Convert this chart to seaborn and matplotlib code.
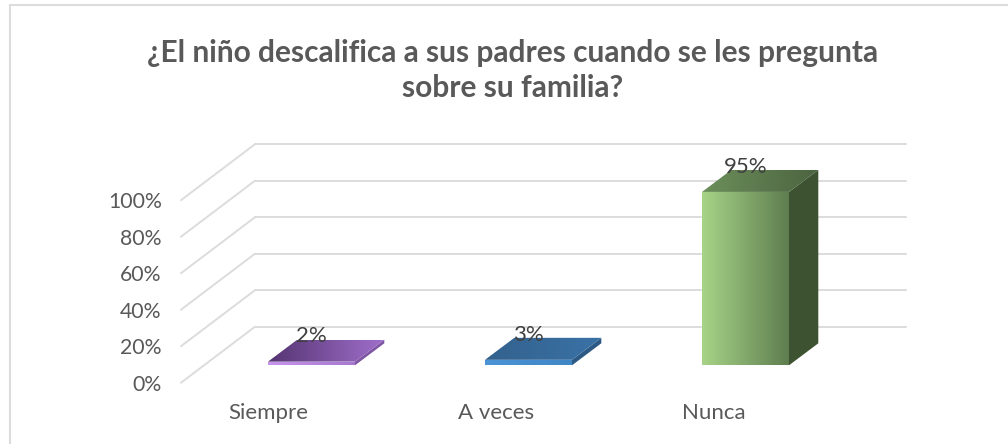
import numpy as np
import matplotlib
matplotlib.use('Agg')
import matplotlib.pyplot as plt
from matplotlib.patches import Rectangle
import pandas as pd
import seaborn as sns

categories = ['Siempre', 'A veces', 'Nunca']
values = [2, 3, 95]
y_ticks = [0, 20, 40, 60, 80, 100]
title = '¿El niño descalifica a sus padres cuando se les pregunta\nsobre su familia?'

W, H = 1008, 444
TEXT = '#595959'
GRID = '#dcdcdc'

sns.set_theme(style='white')
plt.rcParams['font.family'] = ['Lato', 'DejaVu Sans']

# axes box in pixels, ticks sit just outside of it
L, R, T, B = 170, 920, 130, 397
fig = plt.figure(figsize=(W / 100, H / 100), dpi=100)
ax = fig.add_axes([L / W, 1 - B / H, (R - L) / W, (B - T) / H])

# one category = 217 px, 1% = 1.825 px, first bar centre at x=311.5, bar base at y=365.3
PX_X, PX_Y = 217, 1.825
XLIM = ((L - 311.5) / PX_X, (R - 311.5) / PX_X)
YLIM = (-(B - 365.3) / PX_Y, (365.3 - T) / PX_Y)

df = pd.DataFrame({'cat': categories, 'val': values})
sns.barplot(data=df, x='cat', y='val', order=categories, width=87 / PX_X,
            color='#a6d487', saturation=1, errorbar=None, ax=ax)

# oblique projection of the 3d floor, in data units
BACK_DX, BACK_DY = 74 / PX_X, 56 / PX_Y      # full depth of the floor
BAR_DX, BAR_DY = 29.3 / PX_X, 22 / PX_Y      # depth of a bar
x_front = (181 - 311.5) / PX_X
x_right = (906 - 311.5) / PX_X
y_front0 = -17.4 / PX_Y

for t in y_ticks:
    yf = y_front0 + t
    ax.plot([x_front, x_front + BACK_DX], [yf, yf + BACK_DY], color=GRID, lw=1.4, zorder=0.5)
    ax.plot([x_front + BACK_DX, x_right], [yf + BACK_DY] * 2, color=GRID, lw=1.4, zorder=0.5)

ax.set_yticks([y_front0 + t for t in y_ticks])
ax.set_yticklabels([f'{t}%' for t in y_ticks])
ax.tick_params(axis='y', pad=6, length=0, labelsize=15.3, labelcolor=TEXT)

ax.set_xticks([(268 - 311.5) / PX_X, (496 - 311.5) / PX_X, (714 - 311.5) / PX_X])
ax.set_xticklabels(categories)
ax.tick_params(axis='x', pad=4, length=0, labelsize=16, labelcolor=TEXT)
ax.set_xlabel('')
ax.set_ylabel('')
sns.despine(ax=ax, left=True, bottom=True, top=True, right=True)

face = [('#c794ee', '#a778d0'), ('#4a94d6', '#3f86c4'), ('#a6d487', '#5f7d50')]
top = [('#553472', '#a06fcb'), ('#33618d', '#3a72a6'), ('#6c8f5b', '#4c6440')]
side = ['#7e56a3', '#2c5a85', '#3d5230']


def hgrad(c1, c2):
    a = np.array(matplotlib.colors.to_rgb(c1))
    b = np.array(matplotlib.colors.to_rgb(c2))
    return np.linspace(a, b, 128)[None, :, :]


for i, patch in enumerate(ax.patches[:3]):
    x0, w, h = patch.get_x(), patch.get_width(), patch.get_height()
    patch.set_facecolor(face[i][0])
    im = ax.imshow(hgrad(*face[i]), extent=[x0, x0 + w, 0, h], aspect='auto', zorder=2)
    im.set_clip_path(Rectangle((x0, 0), w, h, transform=ax.transData))
    ax.fill([x0 + w, x0 + w + BAR_DX, x0 + w + BAR_DX, x0 + w],
            [0, BAR_DY, h + BAR_DY, h], color=side[i], lw=0, zorder=2)
    im2 = ax.imshow(hgrad(*top[i]), extent=[x0, x0 + w + BAR_DX, h, h + BAR_DY],
                    aspect='auto', zorder=2)
    poly = ax.fill([x0, x0 + BAR_DX, x0 + w + BAR_DX, x0 + w],
                   [h, h + BAR_DY, h + BAR_DY, h], color='none', lw=0)[0]
    im2.set_clip_path(poly)
    ax.text(x0 + w / 2, h + BAR_DY + 1.8, f'{values[i]}%',
            ha='center', va='center', fontsize=16, color='#404040', zorder=3)

ax.set_xlim(*XLIM)
ax.set_ylim(*YLIM)

fig.text(512.5 / W, 1 - 70.5 / H, title, ha='center', va='center', fontsize=21.5,
         fontweight='bold', color=TEXT, linespacing=1.32)

# chart frame
fig.add_artist(plt.Line2D([9.5 / W, 9.5 / W], [0, 1 - 5.5 / H], color=GRID, lw=1.5))
fig.add_artist(plt.Line2D([9.5 / W, 1], [1 - 5.5 / H, 1 - 5.5 / H], color=GRID, lw=1.5))

fig.savefig('out.png', dpi=100)
